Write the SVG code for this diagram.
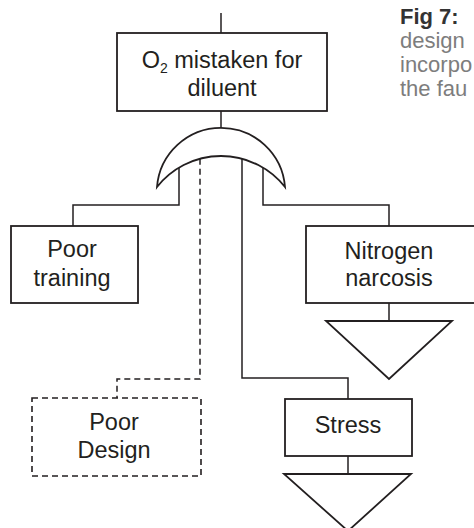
<svg xmlns="http://www.w3.org/2000/svg" width="474" height="528" viewBox="0 0 474 528">
<style>
.box{fill:#fff;stroke:#231f20;stroke-width:1.8}
.dash{fill:#fff;stroke:#231f20;stroke-width:1.6;stroke-dasharray:6 4}
.tri{fill:#fff;stroke:#231f20;stroke-width:1.8;stroke-linejoin:miter}
.gate{fill:#fff;stroke:#231f20;stroke-width:1.8}
.lbl{font-family:"Liberation Sans",Arial,Helvetica,sans-serif;font-size:23.5px;fill:#231f20;text-anchor:middle}
.conn{fill:none;stroke:#231f20;stroke-width:1.5}
.conn-d{fill:none;stroke:#231f20;stroke-width:1.5;stroke-dasharray:6 4}
.cap{font-family:"Liberation Sans",Arial,Helvetica,sans-serif;font-size:22px;fill:#7d7d7d}
.capb{font-family:"Liberation Sans",Arial,Helvetica,sans-serif;font-size:22px;font-weight:bold;fill:#333}
</style>
<rect width="474" height="528" fill="#fff"/>
<g id="connectors">
<path class="conn" d="M221,13 V33"/>
<path class="conn" d="M221,111 V128"/>
<path class="conn" d="M179,167.6 V205 H73 V226"/>
<path class="conn" d="M263,167.6 V205 H389 V226"/>
<path class="conn-d" d="M200,158.7 V379 H117 V398"/>
<path class="conn" d="M242,158.7 V378 H348 V399"/>
<path class="conn" d="M389,303 V321"/>
<path class="conn" d="M348,456 V474"/>
</g>
<g id="top-event">
<rect class="box" x="117" y="33" width="210" height="78"/>
<text class="lbl" x="222" y="68">O<tspan font-size="14" dy="5">2</tspan><tspan dy="-5"> mistaken for</tspan></text>
<text class="lbl" x="222" y="96">diluent</text>
</g>
<g id="or-gate">
<path class="gate" d="M157,187 A64.2,64.2 0 0 1 285,187 A81.6,81.6 0 0 0 157,187 Z"/>
</g>
<g id="poor-training">
<rect class="box" x="11" y="226" width="127" height="77"/>
<text class="lbl" x="72" y="257">Poor</text>
<text class="lbl" x="72" y="286">training</text>
</g>
<g id="nitrogen-narcosis">
<rect class="box" x="306" y="226" width="172" height="77"/>
<text class="lbl" x="389" y="259">Nitrogen</text>
<text class="lbl" x="389" y="286">narcosis</text>
<polygon class="tri" points="326,321 452,321 389,379"/>
</g>
<g id="poor-design">
<rect class="dash" x="32" y="398" width="169" height="78"/>
<text class="lbl" x="114" y="430">Poor</text>
<text class="lbl" x="114" y="458">Design</text>
</g>
<g id="stress">
<rect class="box" x="285" y="399" width="127" height="57"/>
<text class="lbl" x="348" y="433">Stress</text>
<polygon class="tri" points="284,474 411,474 348,531"/>
</g>
<g id="caption">
<text class="capb" x="400" y="24">Fig 7:</text>
<text class="cap" x="400" y="48">design</text>
<text class="cap" x="400" y="72">incorpo</text>
<text class="cap" x="400" y="96">the fau</text>
</g>
</svg>
